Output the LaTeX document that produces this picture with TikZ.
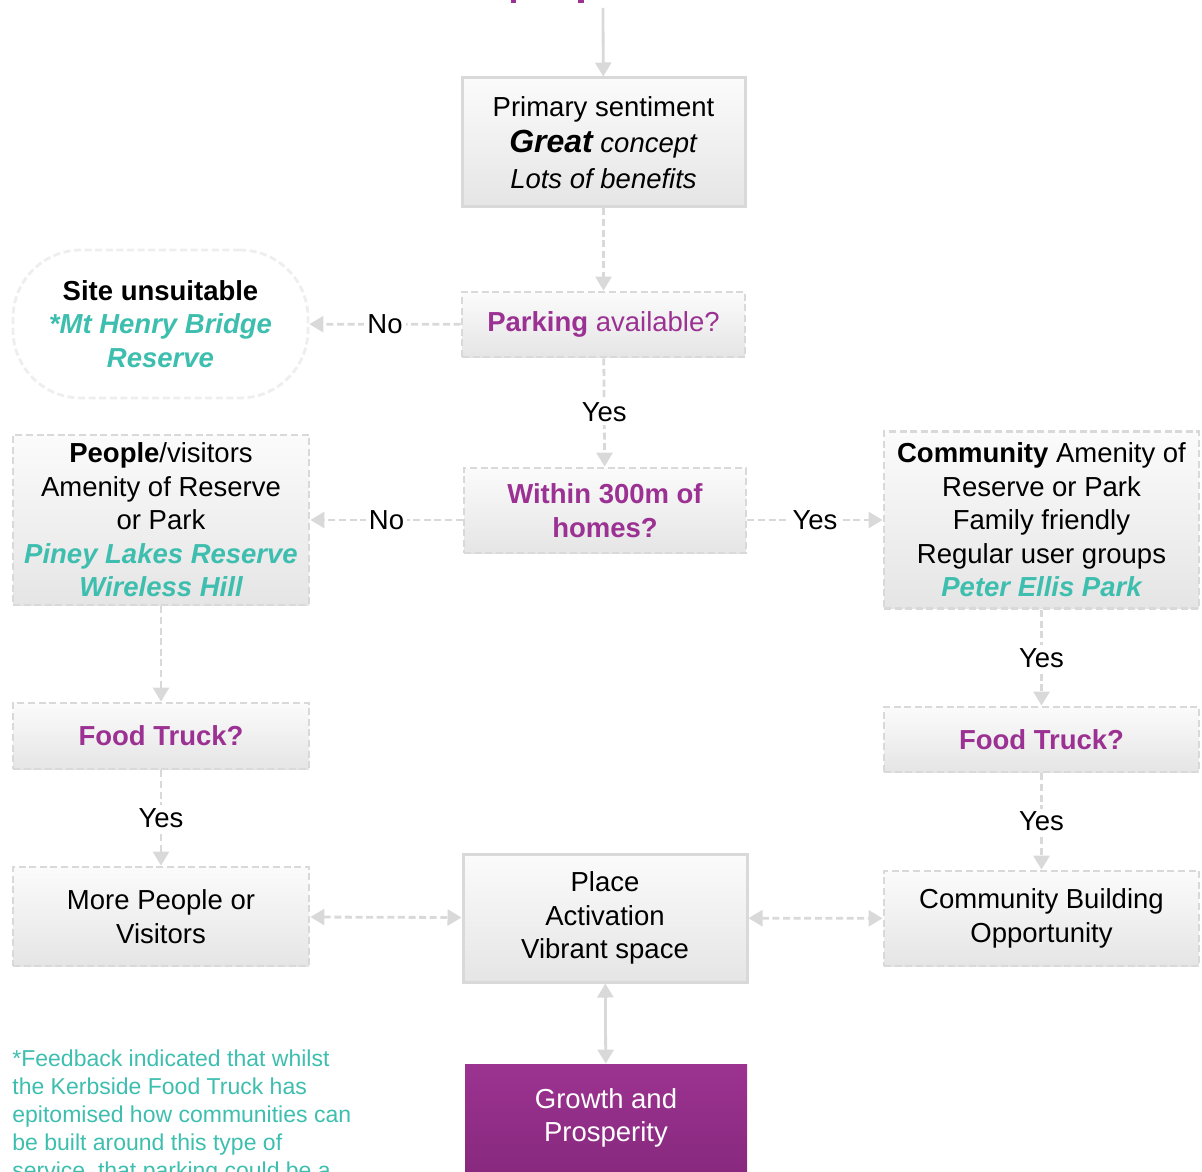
\documentclass[tikz,border=0pt]{standalone}
\usepackage{fontspec}
\setmainfont{Liberation Sans}
\usetikzlibrary{arrows.meta}

\definecolor{plum}{HTML}{9B3192}
\definecolor{sea}{HTML}{3DBEAE}
\definecolor{linegrey}{HTML}{D9D9D9}
\definecolor{rimgrey}{HTML}{EEEEEE}
\definecolor{boxtop}{HTML}{FBFBFB}
\definecolor{boxbot}{HTML}{E5E5E5}
\definecolor{growtop}{HTML}{9C3391}
\definecolor{growbot}{HTML}{88297E}

\newcommand{\seabi}[1]{\textcolor{sea}{\bfseries\itshape #1}}

\begin{document}
\begin{tikzpicture}[x=0.5pt, y=-0.5pt,
  every node/.style={font=\fontsize{13.75}{16.75}\selectfont, align=center},
  box/.style={draw=linegrey, line width=1.5pt, top color=boxtop, bottom color=boxbot, inner sep=0pt},
  qbox/.style={box, line width=1.4pt, dash pattern=on 3.5pt off 1.8pt},
  ask/.style={qbox, text=plum, font=\fontsize{13.75}{16.75}\selectfont\bfseries},
  flow/.style={draw=linegrey, line width=1.4pt, dash pattern=on 3.5pt off 1.8pt, -{Triangle[length=7pt,width=8pt]}},
  link/.style={flow, {Triangle[length=7pt,width=8pt]}-{Triangle[length=7pt,width=8pt]}},
  lbl/.style={fill=white, inner sep=1.5pt}]
  \useasboundingbox (0,0) rectangle (1202,1171);
  \clip (0,0) rectangle (1202,1171);

  % heading, cut off at the top edge
  \fill[plum] (511,0) rectangle (516,3);
  \fill[plum] (578,0) rectangle (584,3);

  % middle column
  \node[box, minimum width=141.5pt, minimum height=64.5pt, font=\fontsize{13.75}{18}\selectfont] (prim) at (603.5,142.5)
    {Primary sentiment\\{\fontsize{16}{18}\selectfont\bfseries\itshape Great} \textit{concept}\\\textit{Lots of benefits}};
  \node[qbox, text=plum, minimum width=141.5pt, minimum height=32.5pt] (park) at (603.5,324.5)
    {\textbf{Parking} available?};
  \node[ask, minimum width=141pt, minimum height=42.5pt] (near) at (605,510.5)
    {Within 300m of\\homes?};
  \node[box, minimum width=142pt, minimum height=64pt] (place) at (605,918)
    {Place\\Activation\\Vibrant space};
  \node[top color=growtop, bottom color=growbot, text=white, minimum width=141pt, minimum height=54pt, inner sep=0pt] (grow) at (606,1118)
    {Growth and\\Prosperity};

  % left column
  \node[draw=rimgrey, line width=1.4pt, dash pattern=on 3.5pt off 1.8pt, fill=white, rounded corners=34pt,
    minimum width=147.5pt, minimum height=74pt, inner sep=0pt] (site) at (160.5,324)
    {\textbf{Site unsuitable}\\\seabi{*Mt Henry Bridge}\\\seabi{Reserve}};
  \node[qbox, minimum width=148pt, minimum height=85pt] (people) at (161,520)
    {\textbf{People}/visitors\\Amenity of Reserve\\or Park\\\seabi{Piney Lakes Reserve}\\\seabi{Wireless Hill}};
  \node[ask, minimum width=148pt, minimum height=33pt] (truckL) at (161,736) {Food Truck?};
  \node[qbox, minimum width=148pt, minimum height=49.5pt] (more) at (161,916.5)
    {More People or\\Visitors};

  % right column
  \node[qbox, minimum width=157.5pt, minimum height=88.5pt] (comm) at (1041.5,520)
    {\textbf{Community} Amenity of\\Reserve or Park\\Family friendly\\Regular user groups\\\seabi{Peter Ellis Park}};
  \node[ask, minimum width=157.5pt, minimum height=32.5pt] (truckR) at (1041.5,739.5) {Food Truck?};
  \node[qbox, minimum width=157.5pt, minimum height=47.5pt] (build) at (1041.5,918.5)
    {Community Building\\Opportunity};

  % footnote
  \node[anchor=base west, align=left, text=sea, inner sep=0pt, font=\fontsize{11.5}{14}\selectfont] (note) at (12,1178)
    {*Feedback indicated that whilst\\the Kerbside Food Truck has\\epitomised how communities can\\be built around this type of\\service, that parking could be a};

  % connectors
  \coordinate (head) at (603,8);
  \draw[flow, solid] (head) -- (prim);
  \draw[flow] (prim) -- (park);
  \draw[flow] (park) -- node[lbl] {No} (site);
  \draw[flow] (park) -- node[lbl] {Yes} (near);
  \draw[flow] (near.west |- people) -- node[lbl] {No} (people);
  \draw[flow] (near.east |- comm) -- node[lbl] {Yes} (comm);
  \draw[flow] (people) -- (truckL);
  \draw[flow] (truckL) -- node[lbl] {Yes} (more);
  \draw[flow] (comm) -- node[lbl] {Yes} (truckR);
  \draw[flow] (truckR) -- node[lbl] {Yes} (build);
  \draw[link] (more) -- (place);
  \draw[link] (place) -- (build);
  \draw[link, solid] (place) -- (grow);
\end{tikzpicture}
\end{document}
